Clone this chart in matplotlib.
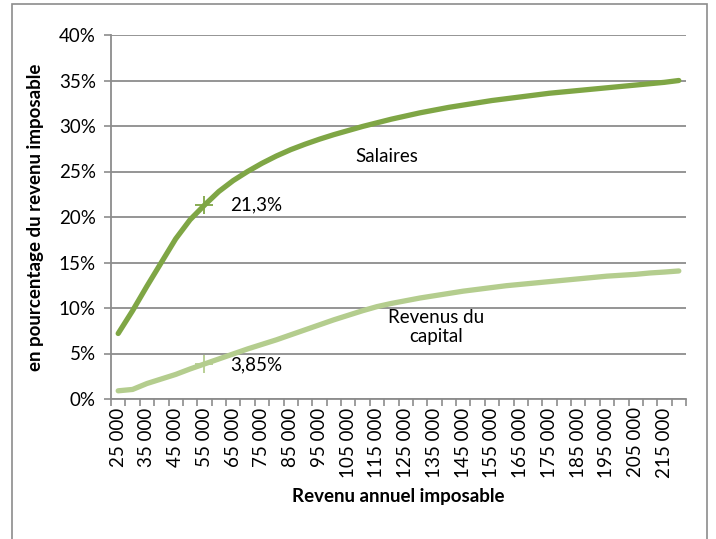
import numpy as np
import matplotlib
matplotlib.use("Agg")
from matplotlib import pyplot
from matplotlib.patches import Rectangle

# Revenu annuel imposable (categories, every 5 000)
revenu = list(range(25000, 220001, 5000))

# en % du revenu imposable
salaires = [7.2, 9.7, 12.4, 15.0, 17.6, 19.7, 21.3, 22.8, 24.0, 25.0,
            25.9, 26.7, 27.4, 28.0, 28.55, 29.05, 29.5, 29.95, 30.35, 30.75,
            31.1, 31.45, 31.75, 32.05, 32.3, 32.55, 32.8, 33.0, 33.2, 33.4,
            33.6, 33.75, 33.9, 34.05, 34.2, 34.35, 34.5, 34.65, 34.8, 35.0]
capital = [0.9, 1.05, 1.7, 2.2, 2.7, 3.3, 3.85, 4.4, 4.95, 5.5,
           6.0, 6.5, 7.05, 7.6, 8.15, 8.7, 9.2, 9.7, 10.15, 10.5,
           10.8, 11.1, 11.35, 11.6, 11.85, 12.05, 12.25, 12.45, 12.6, 12.75,
           12.9, 13.05, 13.2, 13.35, 13.5, 13.6, 13.7, 13.85, 13.95, 14.07]

marker_revenu = 55000
marker_labels = ['21,3%', '3,85%']

pyplot.rcParams['font.family'] = ['Lato', 'DejaVu Sans']
fs = 13.5

dark_green = '#7fa645'
light_green = '#b4cd8e'
grey = '#8c8c8c'

fig = pyplot.figure(figsize=(7.16, 5.39), dpi=100)
ax = fig.add_axes([111 / 716, 1 - 399 / 539, 575 / 716, 364 / 539])

x = np.arange(len(revenu))
ax.plot(x, salaires, color=dark_green, linewidth=3.8, solid_capstyle='round',
        zorder=3)
ax.plot(x, capital, color=light_green, linewidth=3.8, solid_capstyle='round',
        zorder=3)

# markers at 55 000
i_m = revenu.index(marker_revenu)
ax.plot(x[i_m], salaires[i_m], marker='+', markersize=13, mew=1.3,
        color=dark_green, zorder=4)
ax.plot(x[i_m], capital[i_m], marker='+', markersize=13, mew=1.3,
        color=light_green, zorder=4)
ax.text(x[i_m] + 1.8, salaires[i_m], marker_labels[0], fontsize=fs,
        va='center', ha='left')
ax.text(x[i_m] + 1.8, capital[i_m] - 0.1, marker_labels[1], fontsize=fs,
        va='center', ha='left')
ax.text(18.7, 26.6, 'Salaires', fontsize=fs, ha='center', va='center')
ax.text(22.1, 7.9, 'Revenus du\ncapital', fontsize=fs, ha='center',
        va='center', linespacing=1.15)

ax.set_xlim(-0.5, len(revenu) - 0.5)
ax.set_ylim(0, 40)
ax.set_yticks(np.arange(0, 41, 5))
ax.set_yticklabels([f'{v}%' for v in range(0, 41, 5)], fontsize=fs)
ax.yaxis.grid(True, color=grey, linewidth=1.3)
ax.set_axisbelow(True)

# category ticks between categories, labels every other category
ax.set_xticks(np.arange(-0.5, len(revenu), 1.0))
ax.set_xticklabels([])
ax.set_xticks(x[::2], minor=True)
ax.set_xticklabels([f'{r // 1000} 000' for r in revenu[::2]], minor=True,
                   rotation=90, fontsize=fs)
ax.tick_params(axis='x', which='minor', length=0, pad=6)
ax.tick_params(axis='x', which='major', length=5, color=grey, width=1.2)
ax.tick_params(axis='y', length=5, color=grey, width=1.2, pad=6)

for side in ['top', 'right']:
    ax.spines[side].set_visible(False)
for side in ['left', 'bottom']:
    ax.spines[side].set_color(grey)
    ax.spines[side].set_linewidth(1.3)

ax.set_xlabel('Revenu annuel imposable', fontsize=fs, fontweight='bold')
ax.set_ylabel('en pourcentage du revenu imposable', fontsize=fs,
              fontweight='bold')
ax.xaxis.set_label_coords(0.5, -0.245)
ax.yaxis.set_label_coords(-0.117, 0.5)

# chart frame
fig.patches.append(Rectangle((12 / 716, -0.05), 695 / 716, 1.05 - 4 / 539,
                             transform=fig.transFigure, fill=False,
                             edgecolor=grey, linewidth=1.2))

fig.savefig('out.png', dpi=100)
